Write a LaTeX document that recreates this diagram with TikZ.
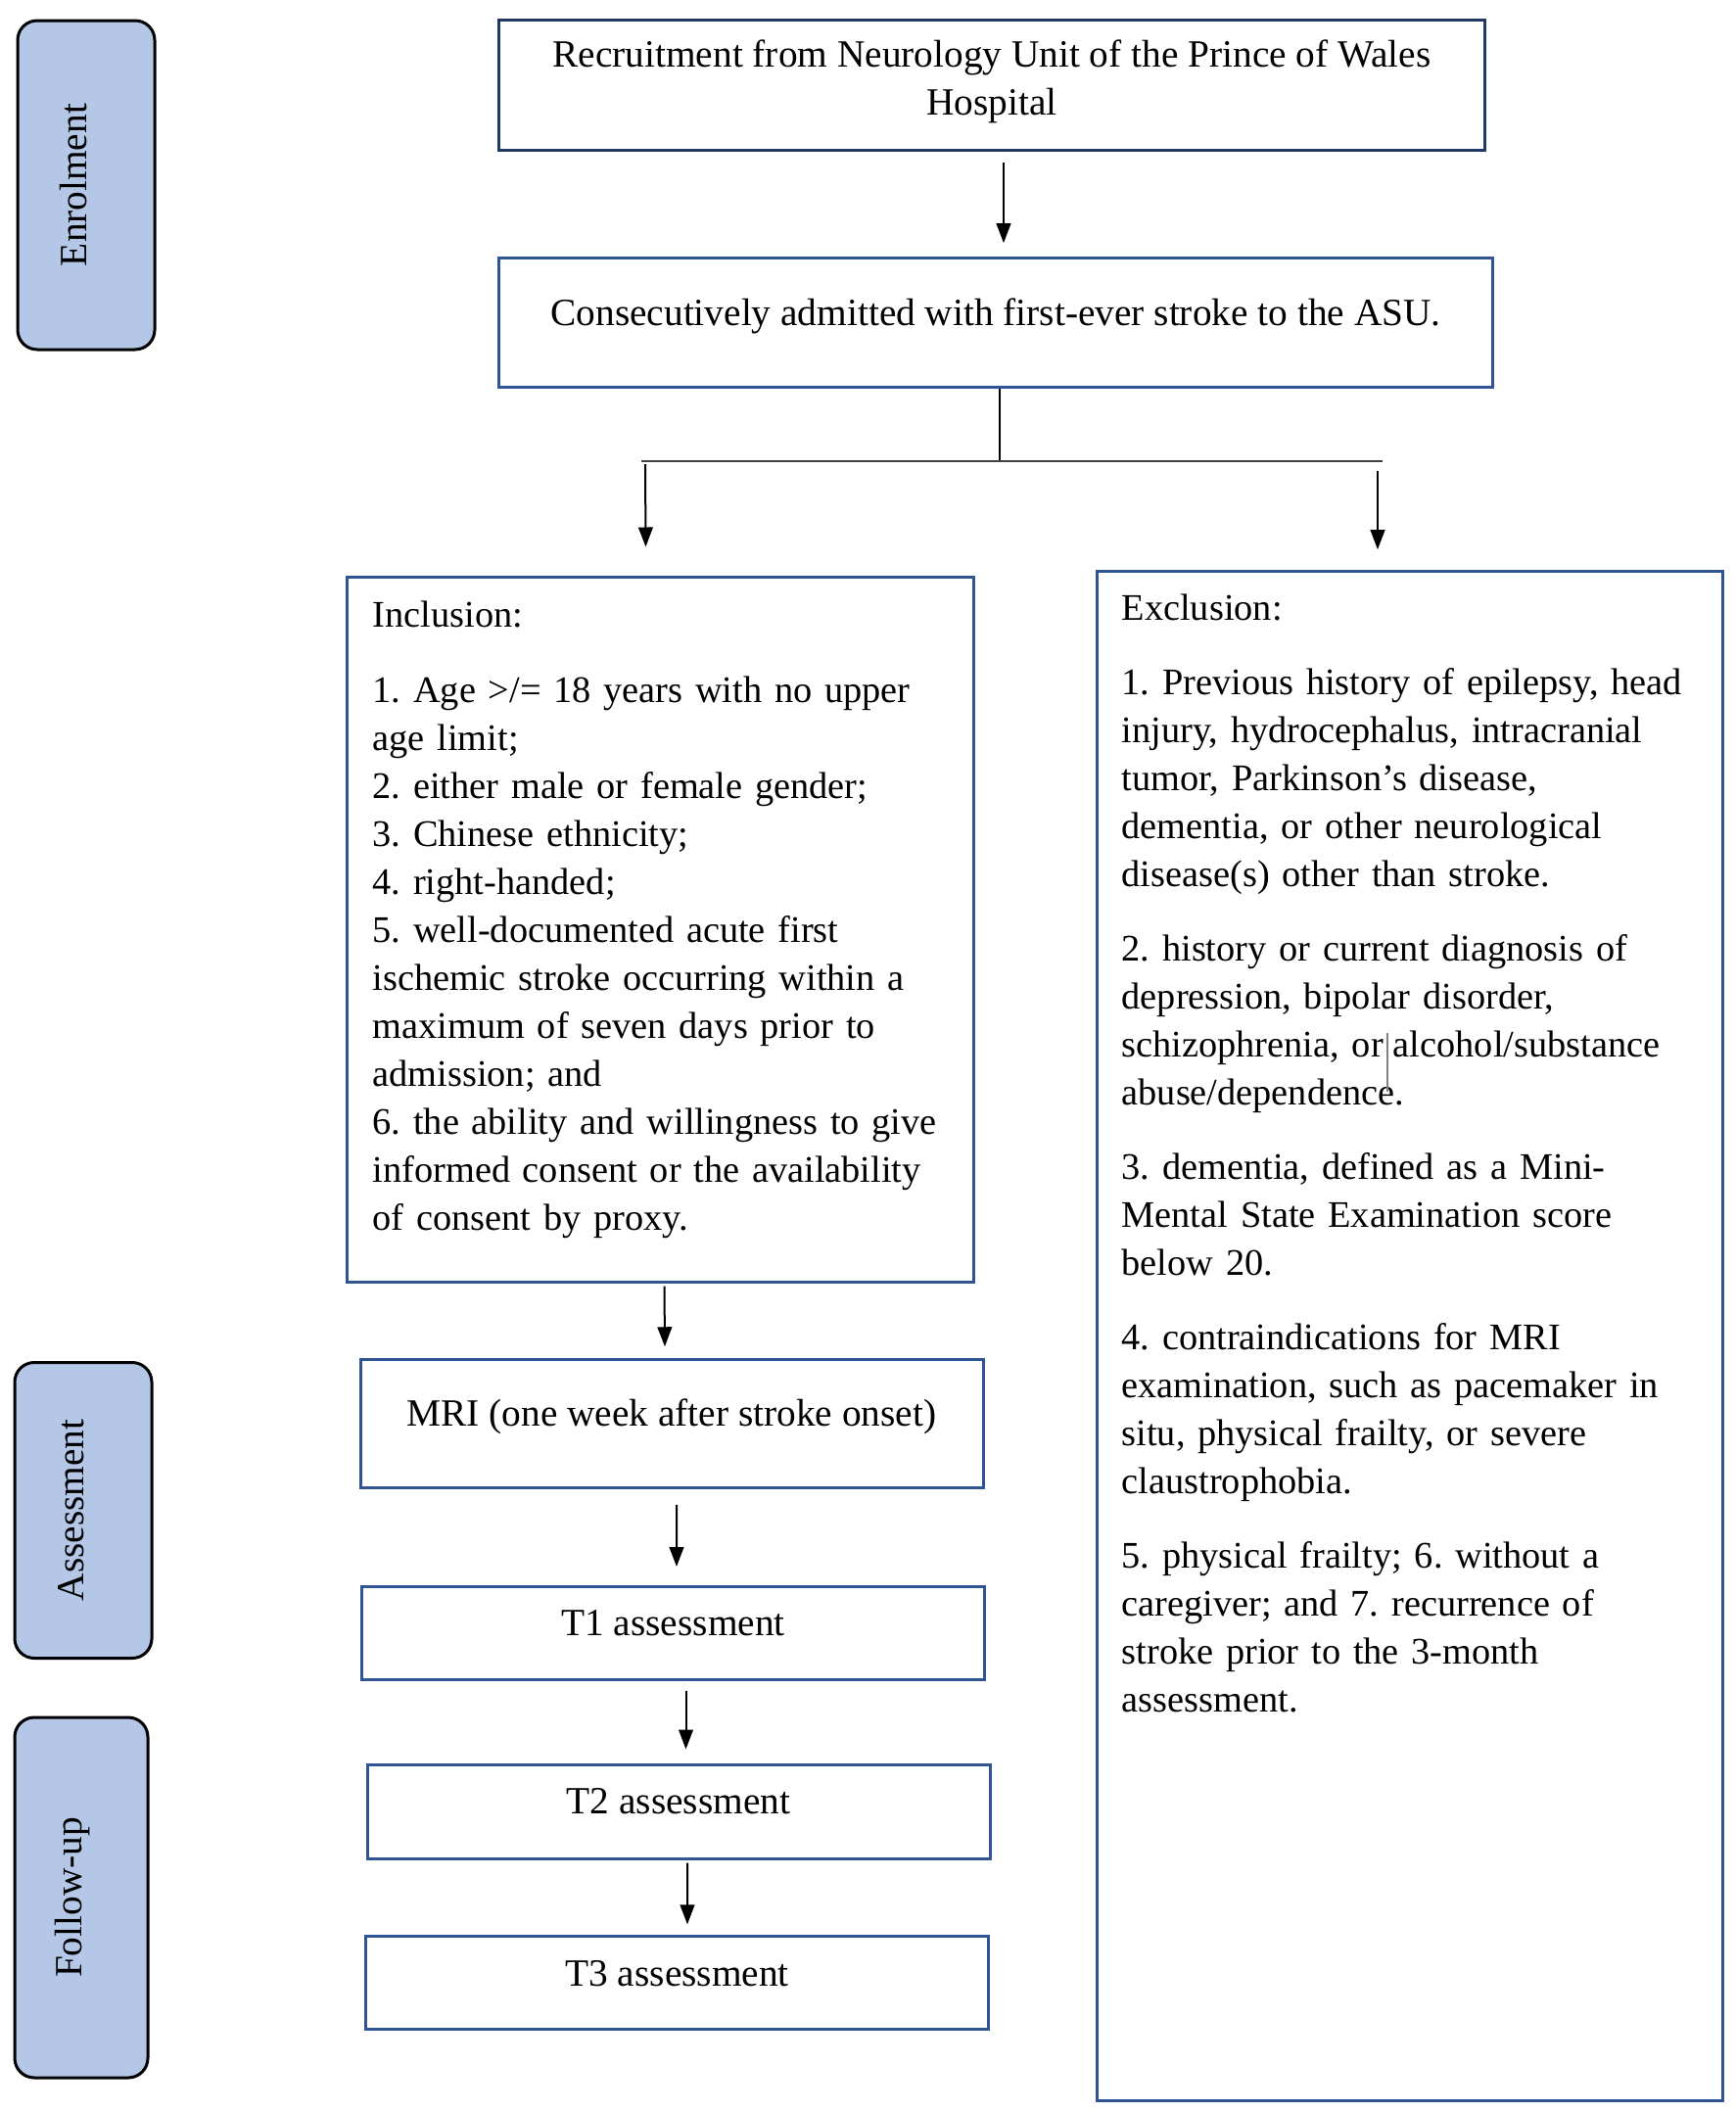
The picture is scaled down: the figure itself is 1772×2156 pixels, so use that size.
\documentclass[tikz,border=0pt]{standalone}
\usepackage{fontspec}
\setmainfont{Liberation Serif}
\usepackage{tikz}
\usetikzlibrary{arrows.meta,calc}

\definecolor{phase}{HTML}{B4C7E7}
\definecolor{rahmen}{HTML}{2F5597}
\definecolor{dunkelblau}{HTML}{203864}

\frenchspacing

\begin{document}
\begin{tikzpicture}[x=0.3pt,y=-0.3pt,
    every node/.style={font=\fontsize{11.8pt}{14.7pt}\selectfont},
    phasebox/.style={draw=black,line width=0.9pt,fill=phase,rounded corners=6pt,rotate=90,
        inner sep=0pt,text height=8pt,text depth=8pt},
    kasten/.style={draw=rahmen,line width=0.9pt,inner sep=0pt},
    einzeilig/.style={kasten,text height=8pt,text depth=6.4pt},
    liste/.style={anchor=north west,inner sep=0pt,align=left,text width=185pt,
        font=\fontsize{11.5pt}{14.7pt}\selectfont},
    pfeil/.style={-{Triangle[length=6pt,width=4.4pt]},line width=0.6pt}]

            \fill[white] (0,0) rectangle (1772,2156);

            % Phasen links
            \node[phasebox,minimum width=100.8pt,minimum height=42pt] (enr) at (88,189) {Enrolment};
            \node[phasebox,minimum width=90.6pt,minimum height=42pt] (ass) at (85,1542.5) {Assessment};
            \node[phasebox,minimum width=110.4pt,minimum height=40.8pt] (fol) at (83,1938) {Follow-up};

            % Kaesten
            \node[kasten,draw=dunkelblau,align=center,text depth=4.6pt,
                minimum width=302.1pt,minimum height=39.9pt] (rec) at (1013,87)
                {Recruitment from Neurology Unit of the Prince of Wales\\Hospital};
            \node[einzeilig,minimum width=304.5pt,minimum height=39.6pt] (con) at (1017,329.7)
                {Consecutively admitted with first-ever stroke to the ASU.};
            \node[kasten,minimum width=192pt,minimum height=216pt] (inc) at (674.5,949) {};
            \node[kasten,minimum width=191.7pt,minimum height=468.6pt] (exc) at (1440,1364.7) {};
            \node[einzeilig,minimum width=190.8pt,minimum height=39.15pt] (mri) at (686,1454)
                {MRI (one week after stroke onset)};
            \node[einzeilig,minimum width=190.8pt,minimum height=28.5pt] (t1) at (687.5,1668) {T1 assessment};
            \node[einzeilig,minimum width=190.8pt,minimum height=28.8pt] (t2) at (693,1850) {T2 assessment};
            \node[einzeilig,minimum width=190.8pt,minimum height=28.5pt] (t3) at (691.6,2025.4) {T3 assessment};

            % Texte in den Listen
            \node[liste] (inctext) at ($(inc.north west)+(27,26)$) {Inclusion:\\[8.4pt]
                1. Age >/= 18 years with no upper\\
                age limit;\\
                2. either male or female gender;\\
                3. Chinese ethnicity;\\
                4. right-handed;\\
                5. well-documented acute first\\
                ischemic stroke occurring within a\\
                maximum of seven days prior to\\
                admission; and\\
                6. the ability and willingness to give\\
                informed consent or the availability\\
                of consent by proxy.};
            \node[liste] (exctext) at ($(exc.north west)+(26,24)$) {Exclusion:\\[8.1pt]
                1. Previous history of epilepsy, head\\
                injury, hydrocephalus, intracranial\\
                tumor, Parkinson’s disease,\\
                dementia, or other neurological\\
                disease(s) other than stroke.\\[8.1pt]
                2. history or current diagnosis of\\
                depression, bipolar disorder,\\
                schizophrenia, or\hspace{3pt}alcohol/substance\\
                abuse/dependence.\\[8.1pt]
                3. dementia, defined as a Mini-\\
                Mental State Examination score\\
                below 20.\\[8.1pt]
                4. contraindications for MRI\\
                examination, such as pacemaker in\\
                situ, physical frailty, or severe\\
                claustrophobia.\\[8.1pt]
                5. physical frailty; 6. without a\\
                caregiver; and 7. recurrence of\\
                stroke prior to the 3-month\\
                assessment.};
            \draw[gray,line width=0.45pt] (1417,1055) -- (1417,1115);

            % Pfeile
            \draw[pfeil] ($(rec.south)+(12,11)$) -- ($(con.north)+(8,-14)$);
            \coordinate (gabel) at ($(con.south)+(4,75)$);
            \coordinate (gl) at (655,471);
            \coordinate (gr) at (1412,471);
            \draw[line width=0.5pt] ($(con.south)+(4,0)$) -- (gabel);
            \draw[line width=0.6pt,black!75] (gl) -- (gr);
            \draw[pfeil] ($(gl)+(4,3)$) -- ($(inc.north)+(-15,-29)$);
            \draw[pfeil] ($(gr)+(-5,10)$) -- ($(exc.north)+(-33,-21)$);
            \draw[pfeil] ($(inc.south)+(4,3)$) -- ($(mri.north)+(-7,-12)$);
            \draw[pfeil] ($(mri.south)+(5,16)$) -- ($(t1.north)+(3.5,-19)$);
            \draw[pfeil] ($(t1.south)+(13,10)$) -- ($(t2.north)+(7.5,-14)$);
            \draw[pfeil] ($(t2.south)+(9,3)$) -- ($(t3.north)+(10.4,-11)$);

\end{tikzpicture}
\end{document}
